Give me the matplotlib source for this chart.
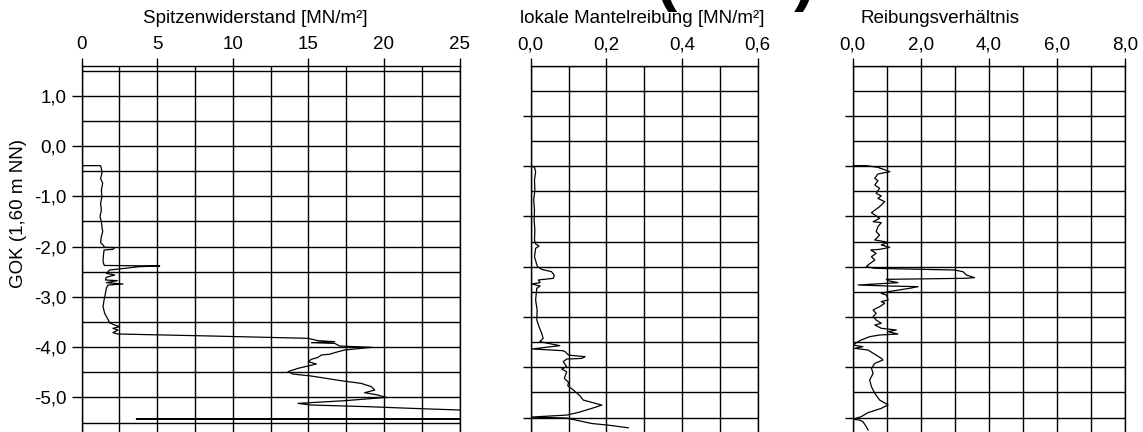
import matplotlib
matplotlib.use("Agg")
import matplotlib.pyplot as plt
from matplotlib.ticker import FixedLocator, FixedFormatter, MultipleLocator

# ---------------- data ----------------
GOK = 1.60  # m NN

# Spitzenwiderstand (depth below GOK [m], qc [MN/m²])
qc_depth = [1.991, 1.991, 2.045, 2.145, 2.243, 2.343, 2.475, 2.608, 2.740, 2.873,
            3.005, 3.105, 3.204, 3.304, 3.403, 3.522, 3.569, 3.615, 3.620, 3.655,
            3.668, 3.801, 3.900, 3.966, 3.975, 3.986, 4.000, 4.066, 4.099, 4.132,
            4.165, 4.211, 4.264, 4.277, 4.317, 4.344, 4.364, 4.430, 4.530, 4.662,
            4.795, 4.927, 5.047, 5.113, 5.159, 5.192, 5.226, 5.259, 5.312, 5.338,
            5.378, 5.424, 5.471, 5.491, 5.511, 5.524, 5.577, 5.603, 5.656, 5.709,
            5.740, 5.755, 5.802, 5.842, 5.888, 5.934, 5.974, 6.021, 6.087, 6.134,
            6.174, 6.267, 6.320, 6.386, 6.452, 6.505, 6.545, 6.598, 6.664, 6.717,
            6.750, 6.783, 6.816, 6.849, 6.920, 7.020, 7.028, 7.035]
qc_value = [0.0, 1.25, 1.30, 1.34, 1.25, 1.39, 1.30, 1.34, 1.25, 1.30,
            1.21, 1.30, 1.34, 1.39, 1.30, 1.25, 1.41, 1.52, 2.18, 2.05,
            1.48, 1.43, 1.41, 1.48, 1.50, 5.16, 3.80, 1.85, 1.74, 1.63,
            2.18, 1.63, 1.57, 2.36, 1.63, 2.73, 1.74, 1.63, 1.57, 1.48,
            1.41, 1.52, 1.74, 1.85, 2.18, 2.51, 2.07, 2.40, 2.07, 2.40,
            8.58, 14.98, 15.64, 16.74, 15.20, 16.74, 17.07, 19.17, 17.40, 16.74,
            16.41, 15.86, 15.64, 15.20, 14.98, 15.53, 14.98, 14.31, 13.65, 13.98,
            15.20, 17.18, 18.50, 19.17, 19.39, 18.72, 19.50, 20.16, 17.40, 14.31,
            15.20, 18.95, 21.82, 25.00, 30.0, 35.0, 3.61, 35.0]

# lokale Mantelreibung (depth below GOK [m], fs [MN/m²])
fs_depth = [1.991, 2.024, 2.111, 2.277, 2.475, 2.674, 2.873, 3.072, 3.271, 3.469,
            3.549, 3.589, 3.635, 3.801, 3.933, 4.000, 4.053, 4.099, 4.165, 4.231,
            4.264, 4.317, 4.344, 4.384, 4.430, 4.662, 4.861, 5.060, 5.192, 5.325,
            5.424, 5.490, 5.570, 5.635, 5.670, 5.690, 5.757, 5.790, 5.823, 5.836,
            5.889, 5.988, 6.035, 6.088, 6.221, 6.300, 6.366, 6.453, 6.566, 6.652,
            6.751, 6.818, 6.897, 6.950, 6.990, 7.010, 7.117, 7.150, 7.203]
fs_value = [0.000, 0.010, 0.013, 0.010, 0.011, 0.008, 0.010, 0.009, 0.011, 0.010,
            0.013, 0.022, 0.013, 0.010, 0.015, 0.018, 0.029, 0.055, 0.062, 0.060,
            0.020, 0.025, 0.003, 0.025, 0.016, 0.013, 0.017, 0.016, 0.022, 0.029,
            0.033, 0.024, 0.077, 0.004, 0.085, 0.091, 0.100, 0.144, 0.135, 0.095,
            0.086, 0.095, 0.082, 0.095, 0.089, 0.100, 0.098, 0.113, 0.130, 0.139,
            0.188, 0.161, 0.126, 0.095, 0.000, 0.095, 0.161, 0.205, 0.258]

# Reibungsverhältnis (depth below GOK [m], Rf)
rf_depth = [1.991, 1.991, 2.024, 2.111, 2.157, 2.243, 2.290, 2.376, 2.442, 2.541,
            2.594, 2.641, 2.707, 2.806, 2.926, 2.972, 3.038, 3.105, 3.125, 3.204,
            3.303, 3.370, 3.469, 3.502, 3.522, 3.569, 3.615, 3.655, 3.668, 3.734,
            3.801, 3.867, 3.966, 3.999, 4.032, 4.066, 4.099, 4.165, 4.218, 4.231,
            4.251, 4.278, 4.317, 4.364, 4.384, 4.397, 4.430, 4.496, 4.530, 4.563,
            4.662, 4.695, 4.728, 4.795, 4.861, 4.927, 4.993, 5.060, 5.126, 5.159,
            5.225, 5.258, 5.292, 5.338, 5.358, 5.391, 5.457, 5.510, 5.557, 5.590,
            5.623, 5.656, 5.822, 5.855, 5.921, 6.020, 6.120, 6.252, 6.385, 6.518,
            6.650, 6.749, 6.816, 6.902, 6.981, 7.034, 7.048, 7.081, 7.180, 7.246]
rf_value = [0.00, 0.40, 0.74, 1.09, 0.74, 0.65, 0.74, 0.65, 0.79, 0.69,
            0.84, 0.74, 0.94, 0.79, 0.55, 0.65, 0.79, 0.60, 0.84, 0.74,
            0.69, 0.79, 0.65, 0.94, 1.02, 0.84, 1.09, 0.79, 0.53, 0.69,
            0.55, 0.65, 0.45, 0.40, 0.65, 2.99, 3.24, 3.34, 3.58, 3.29,
            0.99, 1.04, 1.33, 0.16, 1.04, 1.92, 1.67, 1.04, 0.84, 0.99,
            1.04, 0.84, 0.94, 0.79, 0.60, 0.69, 0.60, 0.69, 0.84, 0.65,
            0.84, 1.28, 1.04, 1.33, 0.79, 0.50, 0.25, 0.11, 0.01, 0.30,
            0.06, 0.45, 0.84, 0.89, 0.65, 0.55, 0.60, 0.50, 0.55, 0.65,
            0.79, 1.04, 0.84, 0.45, 0.25, 0.01, 0.20, 0.30, 0.40, 0.45]

# ticks / labels
qc_xticks = [0, 5, 10, 15, 20, 25]
qc_xlabels = ["0", "5", "10", "15", "20", "25"]
nn_yticks = [1, 0, -1, -2, -3, -4, -5]
nn_ylabels = ["1,0", "0,0", "-1,0", "-2,0", "-3,0", "-4,0", "-5,0"]
fs_xticks = [0.0, 0.2, 0.4, 0.6]
fs_xlabels = ["0,0", "0,2", "0,4", "0,6"]
rf_xticks = [0, 2, 4, 6, 8]
rf_xlabels = ["0,0", "2,0", "4,0", "6,0", "8,0"]
depth_yticks = [1, 2, 3, 4, 5, 6, 7]

titles = ["Spitzenwiderstand [MN/m²]", "lokale Mantelreibung [MN/m²]", "Reibungsverhältnis"]
ylabel = "GOK (1,60 m NN)"

# ---------------- figure ----------------
plt.rcParams["font.family"] = ["Liberation Sans", "DejaVu Sans"]
W, H = 1143, 432
fig = plt.figure(figsize=(W / 100, H / 100), dpi=100)

TOP = 65.5
PX_PER_M = 50.3
depth_bottom = (H - TOP) / PX_PER_M
FS = 13.5


def make_axes(x0, x1):
    return fig.add_axes([x0 / W, 0.0, (x1 - x0) / W, (H - TOP) / H])


def style(ax, xt, xl, xminor, yt, yl, yminor, ytick_len):
    ax.xaxis.tick_top()
    ax.xaxis.set_major_locator(FixedLocator(xt))
    ax.xaxis.set_major_formatter(FixedFormatter(xl))
    ax.xaxis.set_minor_locator(MultipleLocator(xminor))
    ax.yaxis.set_major_locator(FixedLocator(yt))
    if yl is not None:
        ax.yaxis.set_major_formatter(FixedFormatter(yl))
    ax.yaxis.set_minor_locator(MultipleLocator(yminor))
    ax.tick_params(axis="x", which="major", direction="out", length=5.8, width=1.0,
                   pad=3, labelsize=FS, top=True, bottom=False, colors="black")
    ax.tick_params(axis="y", which="major", direction="out", length=ytick_len, width=1.0,
                   pad=3.6, labelsize=FS, left=True, right=False,
                   labelleft=yl is not None)
    ax.tick_params(which="minor", length=0)
    ax.grid(True, which="both", color="black", lw=1.0)
    ax.set_axisbelow(True)
    for s in ("top", "left", "right"):
        ax.spines[s].set_color("black")
        ax.spines[s].set_linewidth(1.0)
    ax.spines["bottom"].set_visible(False)


# Panel 1: qc in NN elevation
ax1 = make_axes(81.7, 459.5)
qc_nn = [GOK - d for d in qc_depth]
ax1.plot(qc_value, qc_nn, color="black", lw=0.9)
ax1.set_xlim(0, 25)
ax1.set_ylim(GOK - depth_bottom, GOK)
style(ax1, qc_xticks, qc_xlabels, 2.5, nn_yticks, nn_ylabels, 0.5, 7.2)

# Panel 2: fs over depth
ax2 = make_axes(530.7, 757.7)
ax2.plot(fs_value, fs_depth, color="black", lw=0.9)
ax2.set_xlim(0, 0.6)
ax2.set_ylim(depth_bottom, 0)
style(ax2, fs_xticks, fs_xlabels, 0.1, depth_yticks, None, 0.5, 5.6)

# Panel 3: Rf over depth
ax3 = make_axes(852.7, 1125.0)
ax3.plot(rf_value, rf_depth, color="black", lw=0.9)
ax3.set_xlim(0, 8)
ax3.set_ylim(depth_bottom, 0)
style(ax3, rf_xticks, rf_xlabels, 1.0, depth_yticks, None, 0.5, 5.6)

# titles
for x_px, t in zip([143.3, 520.0, 860.7], titles):
    fig.text(x_px / W, 1 - 23.3 / H, t, ha="left", va="baseline", fontsize=FS)

fig.text(18.5 / W, 1 - 213 / H, ylabel, rotation=90, ha="center", va="center", fontsize=FS)

# cropped big heading (only the parenthesis tails visible)
fig.text(656 / W, 1 + 1.4 / H, "(", ha="left", va="baseline", fontsize=46, fontweight="bold")
fig.text(794 / W, 1 + 1.4 / H, ")", ha="left", va="baseline", fontsize=46, fontweight="bold")

fig.savefig("out.png", dpi=100)
